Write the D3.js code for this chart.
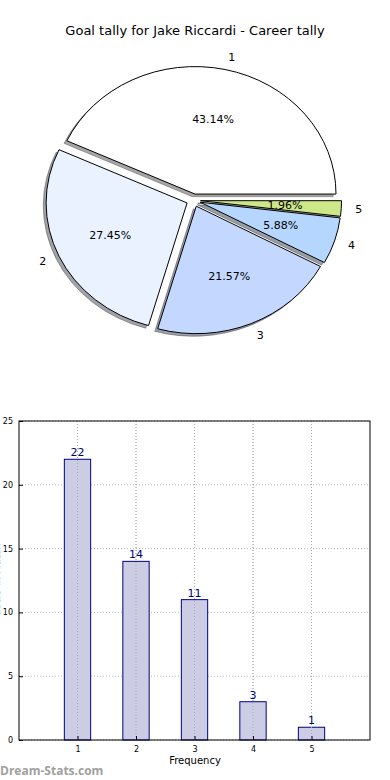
<!DOCTYPE html>
<html><head><meta charset="utf-8">
<script src="https://cdn.jsdelivr.net/npm/d3@7"></script>
<style>body{margin:0;background:#fff;} svg{display:block;font-family:"DejaVu Sans",sans-serif;}</style>
</head><body>
<svg id="c" width="390" height="780"></svg>
<script>
const categories = ["1","2","3","4","5"];
const values = [22,14,11,3,1];
const pieColors = ["#ffffff","#eaf1ff","#c4d8ff","#b4d6ff","#cde888"];
const yTicks = [0,5,10,15,20,25];
const title = "Goal tally for Jake Riccardi - Career tally";

const svg = d3.select("#c");
svg.append("text").attr("x",195).attr("y",35).attr("text-anchor","middle")
  .attr("font-size",13).attr("fill","#000").text(title);

// ---- pie ----
const cx = 193.5, cy = 200.3, rx = 141, ry = 127.5, explode = 0.05;
const pie = d3.pie().sort(null).value(d=>d)(values);
const total = d3.sum(values);
const arc = d3.arc().innerRadius(0).outerRadius(rx);
const slices = pie.map((p,i)=>{
  const t0 = p.startAngle, t1 = p.endAngle; // used as matplotlib ccw angles from +x
  const mid = (t0+t1)/2;
  const ox = cx + explode*rx*Math.cos(mid), oy = cy - explode*ry*Math.sin(mid);
  return {i, t0, t1, mid, ox, oy, v: values[i]};
});
const arcPath = s => arc({startAngle: Math.PI/2 - s.t0, endAngle: Math.PI/2 - s.t1});
const pg = svg.append("g");
// shadows
slices.forEach(s=>{
  const c = d3.rgb(pieColors[s.i]);
  pg.append("path").attr("d",arcPath(s))
    .attr("transform",`translate(${s.ox-0.02*rx},${s.oy+0.02*ry}) scale(1,${ry/rx})`)
    .attr("fill",d3.rgb(c.r*0.3,c.g*0.3,c.b*0.3)).attr("fill-opacity",0.5)
    .attr("stroke",d3.rgb(c.r*0.3,c.g*0.3,c.b*0.3)).attr("stroke-opacity",0.5)
    .attr("stroke-width",1).attr("vector-effect","non-scaling-stroke");
});
slices.forEach(s=>{
  pg.append("path").attr("d",arcPath(s))
    .attr("transform",`translate(${s.ox},${s.oy}) scale(1,${ry/rx})`)
    .attr("fill",pieColors[s.i]).attr("stroke","#000").attr("stroke-width",1)
    .attr("vector-effect","non-scaling-stroke");
});
slices.forEach(s=>{
  const lx = s.ox + 1.1*rx*Math.cos(s.mid), ly = s.oy - 1.1*ry*Math.sin(s.mid);
  const c = Math.cos(s.mid);
  pg.append("text").attr("x",lx).attr("y",ly).attr("dy","0.35em")
    .attr("text-anchor", c>0.05?"start":(c<-0.05?"end":"middle"))
    .attr("font-size",11).text(categories[s.i]);
  const px = s.ox + 0.6*rx*Math.cos(s.mid), py = s.oy - 0.6*ry*Math.sin(s.mid);
  pg.append("text").attr("x",px).attr("y",py).attr("dy","0.35em").attr("text-anchor","middle")
    .attr("font-size",11).text((100*s.v/total).toFixed(2)+"%");
});

// ---- bar chart ----
const L=19, R=370, T=421, B=740;
const x = d3.scaleLinear().domain([0,6]).range([L,R]);
const y = d3.scaleLinear().domain([0,25]).range([B,T]);
const bg = svg.append("g");
// grid
bg.selectAll(".gx").data(categories).join("line")
  .attr("x1",d=>x(+d)).attr("x2",d=>x(+d)).attr("y1",T).attr("y2",B)
  .attr("stroke","#b8b8b8").attr("stroke-dasharray","1,2").attr("stroke-width",1);
bg.selectAll(".gy").data(yTicks).join("line")
  .attr("x1",L).attr("x2",R).attr("y1",d=>y(d)).attr("y2",d=>y(d))
  .attr("stroke","#b8b8b8").attr("stroke-dasharray","1,2").attr("stroke-width",1);
const bw = 0.45;
bg.selectAll("rect.bar").data(values).join("rect")
  .attr("x",(d,i)=>x(i+1-bw/2)).attr("width",x(bw)-x(0))
  .attr("y",d=>y(d)).attr("height",d=>y(0)-y(d))
  .attr("fill","#ccccE5").attr("stroke","#000080").attr("stroke-width",1);
// vertical grid over bars
bg.selectAll(".gx2").data(categories).join("line")
  .attr("x1",d=>x(+d)).attr("x2",d=>x(+d)).attr("y1",T).attr("y2",B)
  .attr("stroke","#a8a8b8").attr("stroke-dasharray","1,2").attr("stroke-width",1);
bg.selectAll("text.val").data(values).join("text")
  .attr("x",(d,i)=>x(i+1)).attr("y",d=>y(d)-3).attr("text-anchor","middle")
  .attr("font-size",11).attr("fill","#000080").text(d=>d);
bg.append("rect").attr("x",L).attr("y",T).attr("width",R-L).attr("height",B-T)
  .attr("fill","none").attr("stroke","#000").attr("stroke-width",1);
// axes ticks
const xa = bg.append("g").attr("transform",`translate(0,${B})`)
  .call(d3.axisBottom(x).tickValues(categories.map(Number)).tickFormat((d,i)=>categories[i]).tickSize(-4).tickPadding(6));
const ya = bg.append("g").attr("transform",`translate(${L},0)`)
  .call(d3.axisLeft(y).tickValues(yTicks).tickSize(-4).tickPadding(6));
[xa,ya].forEach(a=>{a.select(".domain").remove(); a.selectAll("text").attr("font-size",8).attr("font-family","DejaVu Sans, sans-serif").attr("fill","#000"); a.selectAll("line").attr("stroke","#000");});
bg.append("text").attr("x",195).attr("y",764).attr("text-anchor","middle").attr("font-size",10).text("Frequency");
bg.append("text").attr("transform",`translate(0,${(T+B)/2}) rotate(-90)`).attr("text-anchor","middle")
  .attr("font-size",10).text("Goals in Match");
svg.append("text").attr("x",0).attr("y",775).attr("font-size",12).attr("font-weight","bold")
  .attr("font-family","Open Sans, sans-serif")
  .attr("fill","#a0a0a0").text("Dream-Stats.com");
</script>
</body></html>
